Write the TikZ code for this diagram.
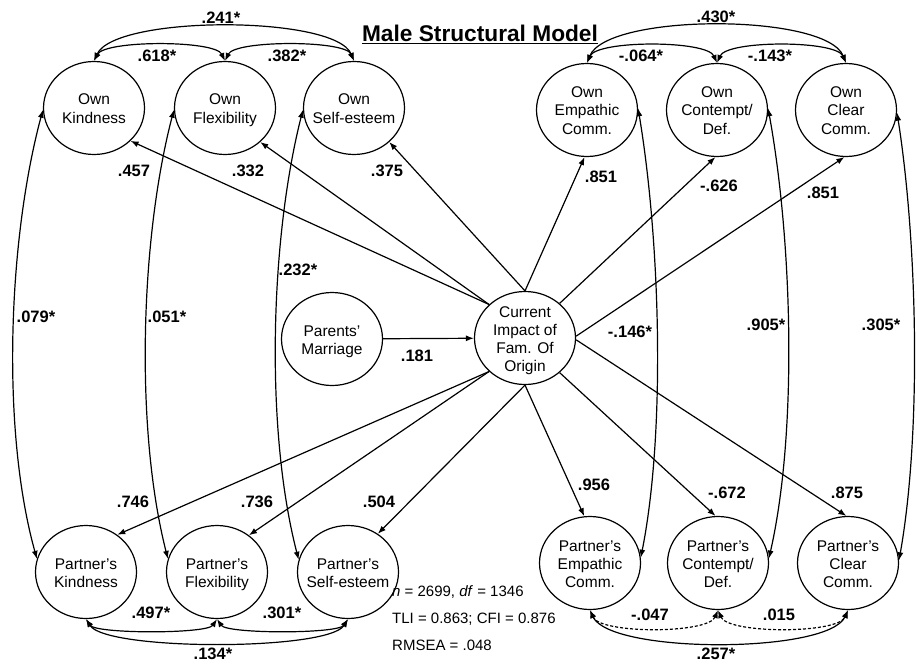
\documentclass[tikz,border=0pt]{standalone}
\usepackage{fontspec}
\setmainfont{Liberation Sans}
\usetikzlibrary{shapes.geometric,arrows.meta}
\newcommand{\tp}{\rule{0pt}{16pt}}
\newcommand{\bt}{\rule[-4pt]{0pt}{4pt}}
\begin{document}
\begin{tikzpicture}[x=1pt,y=-1pt,
  ell/.style={draw,ellipse,line width=1.2pt,minimum width=101pt,minimum height=93pt,inner sep=-8pt,align=center,font=\fontsize{15.5}{18}\selectfont},
  arr/.style={line width=1.2pt,-{Latex[length=8pt,width=6pt]}},
  darr/.style={line width=1.2pt,{Latex[length=8pt,width=6pt]}-{Latex[length=8pt,width=6pt]}},
  dsh/.style={dash pattern=on 3pt off 2pt},
  lab/.style={font=\fontsize{16.5}{18}\selectfont\bfseries,inner sep=0pt},
  fit/.style={font=\fontsize{15}{18}\selectfont,anchor=base west,inner sep=0pt}]
\useasboundingbox (0,0) rectangle (917,666);
% nodes
\node[ell] (OK) at (94,108) {\tp Own\\Kindness\bt};
\node[ell] (OF) at (225,108) {\tp Own\\Flexibility\bt};
\node[ell] (OS) at (354,108) {\tp Own\\Self-esteem\bt};
\node[ell] (OE) at (587,110) {\tp Own\\Empathic\\Comm.\bt};
\node[ell] (OC) at (717,110) {\tp Own\\Contempt/\\Def.\bt};
\node[ell] (OCl) at (846,110) {\tp Own\\Clear\\Comm.\bt};
\node[ell] (PK) at (86,572) {\tp Partner's\\Kindness\bt};
\node[ell] (PF) at (217,572) {\tp Partner's\\Flexibility\bt};
\node[ell] (PS) at (348,572) {\tp Partner's\\Self-esteem\bt};
\node[ell] (PE) at (590,563) {\tp Partner's\\Empathic\\Comm.\bt};
\node[ell] (PC) at (718,563) {\tp Partner's\\Contempt/\\Def.\bt};
\node[ell] (PCl) at (848,563) {\tp Partner's\\Clear\\Comm.\bt};
\node[ell] (CI) at (525,338) {\tp Current\\Impact of\\Fam. Of\\Origin\bt};
\node[ell] (PM) at (332,339) {\tp Parents'\\Marriage\bt};
% title
\node[font=\fontsize{22.7}{26}\selectfont\bfseries,anchor=base,inner sep=0pt] (title) at (480,42) {\underline{Male Structural Model}};
% structural paths
\draw[arr] (PM) -- (CI);
\draw[arr] (CI.137) -- (OK.-42);
\draw[arr] (CI.137) -- (OF.-44);
\draw[arr] (CI.90) -- (OS.-44);
\draw[arr] (CI.90) -- (OE.-93);
\draw[arr] (CI.45) -- (OC.-92);
\draw[arr] (CI.2) -- (OCl.-92);
\draw[arr] (CI.-137) -- (PK.50);
\draw[arr] (CI.-137) -- (PF.49);
\draw[arr] (CI.-90) -- (PS.52);
\draw[arr] (CI.-90) -- (PE.97);
\draw[arr] (CI.-45) -- (PC.93);
\draw[arr] (CI.-2) -- (PCl.92);
% vertical covariances
\draw[darr] (OK.182) .. controls (8,240) and (1,430) .. (PK.165);
\draw[darr] (OF.182) .. controls (140,240) and (135,430) .. (PF.165);
\draw[darr] (OS.182) .. controls (270,240) and (265,430) .. (PS.166);
\draw[darr] (OE.2) .. controls (660,240) and (666,430) .. (PE.6);
\draw[darr] (OC.2) .. controls (792,240) and (798,430) .. (PC.5);
\draw[darr] (OCl.-3) .. controls (917,240) and (922,430) .. (PCl.3);
% top covariances
\draw[darr] (OK.north) .. controls (115,15) and (335,15) .. (OS.north);
\draw[darr] (OK.north) .. controls (105,40) and (215,40) .. (OF.north);
\draw[darr] (OF.north) .. controls (235,40) and (345,40) .. (OS.north);
\draw[darr] (OE.north) .. controls (607,13) and (826,13) .. (OCl.north);
\draw[darr] (OE.north) .. controls (597,40) and (707,40) .. (OC.north);
\draw[darr] (OC.north) .. controls (727,40) and (836,40) .. (OCl.north);
% bottom covariances
\draw[darr] (PK.south) .. controls (96,634) and (207,634) .. (PF.south);
\draw[darr] (PF.south) .. controls (227,634) and (338,634) .. (PS.south);
\draw[darr] (PK.south) .. controls (106,651) and (328,651) .. (PS.south);
\draw[darr,dsh] (PE.south) .. controls (600,634) and (708,634) .. (PC.south);
\draw[darr,dsh] (PC.south) .. controls (728,634) and (838,634) .. (PCl.south);
\draw[darr] (PE.south) .. controls (610,654) and (828,654) .. (PCl.south);
% labels
\node[lab] (l241) at (221,18) {.241*};
\node[lab] (l618) at (157,56) {.618*};
\node[lab] (l382) at (287,56) {.382*};
\node[lab] (l430) at (716,17) {.430*};
\node[lab] (l064) at (641,56) {-.064*};
\node[lab] (l143) at (770,56) {-.143*};
\node[lab] (l457) at (134,171) {.457};
\node[lab] (l332) at (248,171) {.332};
\node[lab] (l375) at (387,171) {.375};
\node[lab] (l851a) at (601,177) {.851};
\node[lab] (l626) at (719,186) {-.626};
\node[lab] (l851b) at (823,193) {.851};
\node[lab] (l232) at (298,270) {.232*};
\node[lab] (l079) at (36,317) {.079*};
\node[lab] (l051) at (167,317) {.051*};
\node[lab] (l181) at (417,356) {.181};
\node[lab] (l146) at (630,332) {-.146*};
\node[lab] (l905) at (766,325) {.905*};
\node[lab] (l305) at (881,325) {.305*};
\node[lab] (l746) at (133,502) {.746};
\node[lab] (l736) at (257,502) {.736};
\node[lab] (l504) at (379,502) {.504};
\node[lab] (l956) at (594,485) {.956};
\node[lab] (l672) at (727,493) {-.672};
\node[lab] (l875) at (847,493) {.875};
\node[lab] (l497) at (151,613) {.497*};
\node[lab] (l301) at (282,613) {.301*};
\node[lab] (l134) at (213,654) {.134*};
\node[lab] (l047) at (650,615) {-.047};
\node[lab] (l015) at (779,615) {.015};
\node[lab] (l257) at (716,654) {.257*};
% fit statistics
\node[fit] (fit1) at (392,596) {\textit{n} = 2699, \textit{df} = 1346};
\node[fit] (fit2) at (392,623) {TLI = 0.863; CFI = 0.876};
\node[fit] (fit3) at (392,650) {RMSEA = .048};
\end{tikzpicture}
\end{document}
